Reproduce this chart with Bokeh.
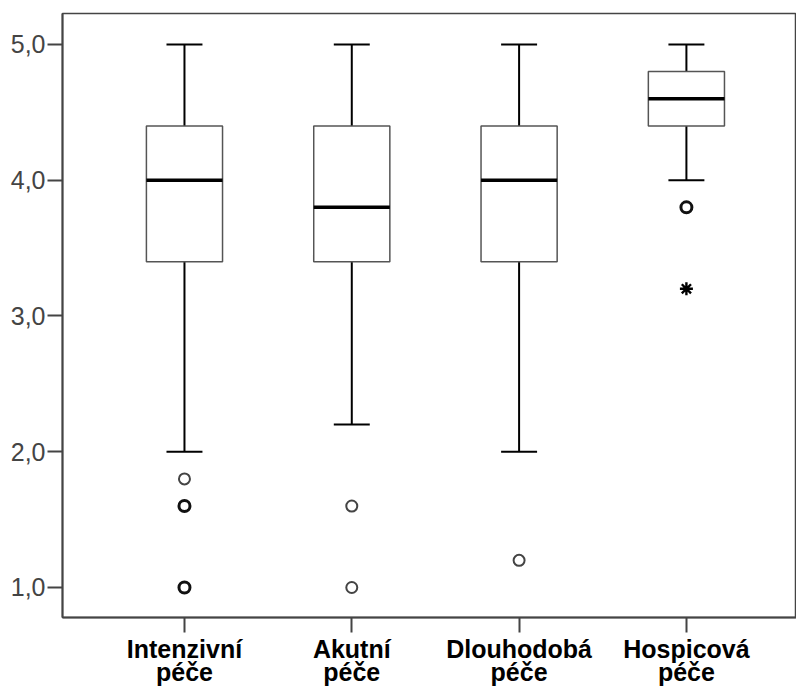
from bokeh.plotting import figure
from bokeh.models import Range1d, FixedTicker, CustomJSTickFormatter
from bokeh.embed import file_html
from bokeh.resources import INLINE

# ---- data ----
categories = ["Intenzivní\npéče", "Akutní\npéče", "Dlouhodobá\npéče", "Hospicová\npéče"]
lower = [2.0, 2.2, 2.0, 4.0]
q1 = [3.4, 3.4, 3.4, 4.4]
median = [4.0, 3.8, 4.0, 4.6]
q3 = [4.4, 4.4, 4.4, 4.8]
upper = [5.0, 5.0, 5.0, 5.0]
outlier_cat = [0, 1, 1, 2]
outlier_val = [1.8, 1.6, 1.0, 1.2]
outlier_multi_cat = [0, 0, 3]
outlier_multi_val = [1.6, 1.0, 3.8]
extreme_cat = [3]
extreme_val = [3.2]
y_ticks = [1, 2, 3, 4, 5]

xs = list(range(len(categories)))
box_w = 0.455
cap_w = 0.215

p = figure(frame_width=734, frame_height=604, output_backend="svg",
           toolbar_location=None, min_border_left=62, min_border_top=13,
           min_border_right=0, min_border_bottom=0,
           x_range=Range1d(-0.729, 3.658), y_range=Range1d(0.779, 5.228))
p.background_fill_color = "white"
p.border_fill_color = "white"
p.outline_line_color = "#444444"
p.outline_line_width = 1.5
p.xgrid.visible = False
p.ygrid.visible = False

# whiskers
p.segment(x0=xs, y0=q3, x1=xs, y1=upper, line_color="black", line_width=2)
p.segment(x0=xs, y0=lower, x1=xs, y1=q1, line_color="black", line_width=2)
p.segment(x0=[x - cap_w / 2 for x in xs], y0=upper, x1=[x + cap_w / 2 for x in xs], y1=upper,
          line_color="black", line_width=2)
p.segment(x0=[x - cap_w / 2 for x in xs], y0=lower, x1=[x + cap_w / 2 for x in xs], y1=lower,
          line_color="black", line_width=2)
# boxes
p.vbar(x=xs, width=box_w, bottom=q1, top=q3, fill_color="white",
       line_color="#555555", line_width=1.5)
# medians
p.segment(x0=[x - box_w / 2 for x in xs], y0=median, x1=[x + box_w / 2 for x in xs], y1=median,
          line_color="black", line_width=3.5)
# outliers
p.scatter(x=outlier_cat, y=outlier_val, marker="circle", size=11,
          fill_color="white", line_color="#444444", line_width=2)
p.scatter(x=outlier_multi_cat, y=outlier_multi_val, marker="circle", size=11,
          fill_color="white", line_color="#111111", line_width=3)
p.scatter(x=extreme_cat, y=extreme_val, marker="asterisk", size=13,
          line_color="black", line_width=2.4)

# axes
p.yaxis.ticker = FixedTicker(ticks=y_ticks)
p.yaxis.formatter = CustomJSTickFormatter(code="return tick.toFixed(1).replace('.', ',');")
p.yaxis.minor_tick_line_color = None
p.yaxis.major_tick_in = 0
p.yaxis.major_tick_out = 15
p.yaxis.major_label_standoff = 2
p.yaxis.major_label_text_font = "Liberation Sans"
p.yaxis.major_label_text_font_size = "25px"
p.yaxis.major_label_text_color = "#444444"

p.xaxis.ticker = FixedTicker(ticks=xs)
p.xaxis.major_label_overrides = {i: c for i, c in zip(xs, categories)}
p.xaxis.minor_tick_line_color = None
p.xaxis.major_tick_in = 0
p.xaxis.major_tick_out = 15
p.xaxis.major_label_standoff = 2
p.xaxis.major_label_text_font = "Liberation Sans"
p.xaxis.major_label_text_font_style = "bold"
p.xaxis.major_label_text_font_size = "25px"
p.xaxis.major_label_text_color = "black"
p.xaxis.major_label_text_line_height = 0.85

for ax in (p.xaxis, p.yaxis):
    ax.axis_line_color = "#444444"
    ax.axis_line_width = 2
    ax.major_tick_line_color = "#444444"
    ax.major_tick_line_width = 2

open("out.html", "w").write(file_html(p, INLINE))
